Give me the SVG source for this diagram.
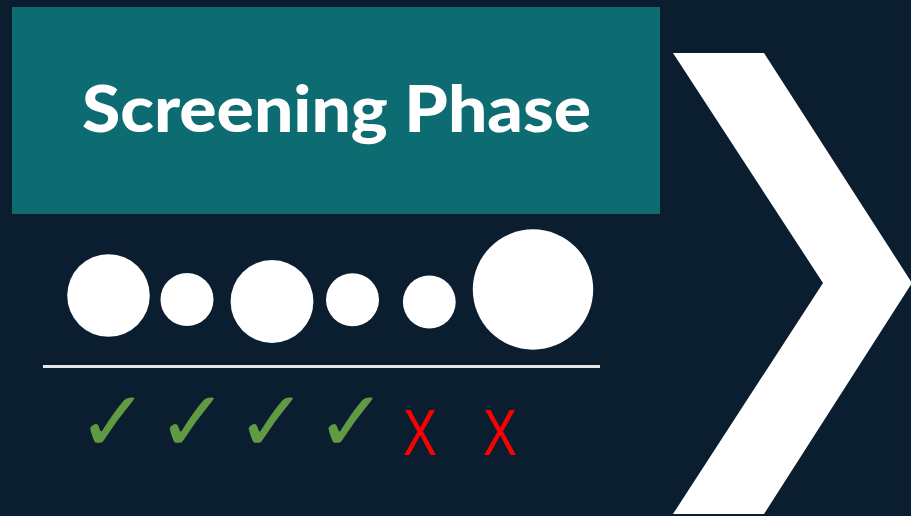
<svg xmlns="http://www.w3.org/2000/svg" width="911" height="516" viewBox="0 0 911 516">
<style>
.dot{fill:#ffffff}
.chk{fill:#609a43;font-family:"DejaVu Sans",sans-serif;font-size:85px;text-anchor:middle}
.x{fill:#ff0000;font-family:"Liberation Sans",Arial,sans-serif;font-size:64px;text-anchor:middle}
</style>
<rect x="0" y="0" width="911" height="516" fill="#0b1e30"/>
<g id="title">
<rect x="12" y="7" width="648" height="207" fill="#0d6c72"/>
<text x="82" y="132" textLength="509" lengthAdjust="spacingAndGlyphs" font-family="Lato,'Open Sans',sans-serif" font-weight="900" font-size="65" fill="#ffffff">Screening Phase</text>
</g>
<g id="chevron">
<polygon points="673,53 764,53 912,283 764,514 673,514 823,283" fill="#ffffff"/>
</g>
<g id="circles">
<circle class="dot" cx="108.5" cy="295.5" r="41.3"/>
<circle class="dot" cx="187" cy="299.5" r="26.5"/>
<circle class="dot" cx="272" cy="301.5" r="41.4"/>
<circle class="dot" cx="352.5" cy="299.7" r="26.5"/>
<circle class="dot" cx="429.3" cy="302" r="26.4"/>
<circle class="dot" cx="533" cy="289.5" r="60.2"/>
</g>
<g id="connectors">
<line x1="43" y1="366.5" x2="600" y2="366.5" stroke="#e6e6e6" stroke-width="3"/>
</g>
<g id="marks">
<text class="chk" x="113" y="451">✓</text>
<text class="chk" x="192.5" y="451">✓</text>
<text class="chk" x="271.7" y="451">✓</text>
<text class="chk" x="351.3" y="451">✓</text>
<text class="x" x="420" y="455" textLength="34" lengthAdjust="spacingAndGlyphs">X</text>
<text class="x" x="500" y="455" textLength="34" lengthAdjust="spacingAndGlyphs">X</text>
</g>
</svg>
